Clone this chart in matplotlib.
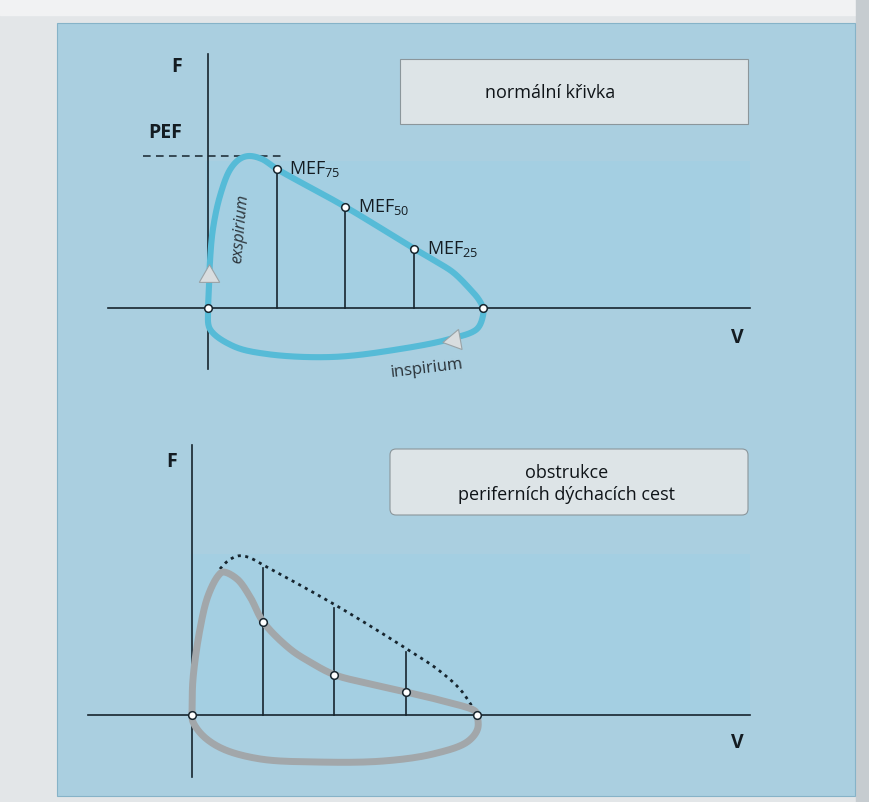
import numpy as np
import matplotlib
matplotlib.use("Agg")
import matplotlib.pyplot as plt
from matplotlib.patches import Rectangle, FancyBboxPatch
from matplotlib.markers import MarkerStyle

plt.rcParams['font.family'] = ['Open Sans', 'DejaVu Sans']
plt.rcParams['mathtext.default'] = 'regular'

# ---------------- data (V in % of vital capacity, F in relative flow units) -------------
# normal flow-volume loop
normal_exp_V = [0, 0.4, 0.7, 1.8, 4.4, 8.0, 11.5, 14.9, 19.6, 25, 50, 75, 83.0, 89.1, 95.0, 98.5, 100]
normal_exp_F = [0, 1.5, 3.0, 5.2, 7.4, 9.1, 9.8, 10.0, 9.8, 9.15, 6.65, 3.9, 3.05, 2.35, 1.3, 0.55, 0]
normal_insp_V = [100, 100, 97.8, 88, 69.8, 45.5, 21.5, 9.1, 0.7, 0]
normal_insp_F = [0, -0.5, -1.38, -2.04, -2.7, -3.22, -3.03, -2.5, -1.38, 0]
PEF = 10.0
MEF_V = [25, 50, 75]
MEF_normal = [9.15, 6.65, 3.9]
MEF_labels = ['MEF$_{75}$', 'MEF$_{50}$', 'MEF$_{25}$']

# peripheral airway obstruction
obstr_exp_V = [0, 0.35, 2.8, 5.6, 9.1, 10.9, 15.8, 20.4, 25, 34.4, 41.4, 50, 62.5, 75, 88.1, 99.3, 100]
obstr_exp_F = [0, 2.24, 5.34, 7.39, 8.63, 8.88, 8.45, 7.33, 5.78, 4.1, 3.29, 2.5, 1.93, 1.43, 0.87, 0.25, 0]
obstr_insp_V = [100, 100.2, 96.5, 84.6, 67, 43.9, 23.9, 10.9, 3.9, 0.35, 0]
obstr_insp_F = [0, -0.87, -1.68, -2.42, -2.86, -2.92, -2.73, -2.11, -1.30, -0.43, 0]
MEF_obstr = [5.78, 2.5, 1.43]
# normal expiratory limb shown dotted for reference
ref_V = [9.8, 12.6, 16.1, 19.6, 26.3, 50.9, 75.4, 86, 94, 98.2, 99.3]
ref_F = [9.07, 9.57, 9.88, 9.81, 9.19, 6.77, 4.1, 2.86, 1.61, 0.56, 0.25]

title_top = 'normální křivka'
title_bottom = 'obstrukce\nperiferních dýchacích cest'


def smooth(v, f, sv, sf, n=16):
    """centripetal Catmull-Rom through the read points (drawing only), in display-like units"""
    p = np.column_stack([np.asarray(v, float) * sv, np.asarray(f, float) * sf])
    p = np.vstack([2 * p[0] - p[1], p, 2 * p[-1] - p[-2]])
    out = []
    for i in range(1, len(p) - 2):
        p0, p1, p2, p3 = p[i - 1], p[i], p[i + 1], p[i + 2]
        t0 = 0.0
        t1 = t0 + max(np.linalg.norm(p1 - p0), 1e-6) ** 0.5
        t2 = t1 + max(np.linalg.norm(p2 - p1), 1e-6) ** 0.5
        t3 = t2 + max(np.linalg.norm(p3 - p2), 1e-6) ** 0.5
        t = np.linspace(t1, t2, n, endpoint=False)[:, None]
        a1 = (t1 - t) / (t1 - t0) * p0 + (t - t0) / (t1 - t0) * p1
        a2 = (t2 - t) / (t2 - t1) * p1 + (t - t1) / (t2 - t1) * p2
        a3 = (t3 - t) / (t3 - t2) * p2 + (t - t2) / (t3 - t2) * p3
        b1 = (t2 - t) / (t2 - t0) * a1 + (t - t0) / (t2 - t0) * a2
        b2 = (t3 - t) / (t3 - t1) * a2 + (t - t1) / (t3 - t1) * a3
        c = (t2 - t) / (t2 - t1) * b1 + (t - t1) / (t2 - t1) * b2
        out.append(c)
    out.append(p[-2][None, :])
    out = np.vstack(out)
    return out[:, 0] / sv, out[:, 1] / sf


W, H = 870, 803
fig = plt.figure(figsize=(W / 100, H / 100), dpi=100)
fig.patch.set_facecolor('#e3e6e8')

# background layer (pixel coordinates)
bg = fig.add_axes([0, 0, 1, 1])
bg.set_xlim(0, W)
bg.set_ylim(H, 0)
bg.axis('off')
bg.add_patch(Rectangle((0, 0), W, 16, color='#f1f2f3', zorder=0))
bg.add_patch(Rectangle((856, 0), 14, H, color='#c6ccd0', zorder=0))
bg.add_patch(Rectangle((57, 24), 798, 773, facecolor='#aacfe0', edgecolor='#86b3c8', lw=0.8, zorder=1))
bg.add_patch(Rectangle((205, 162), 545, 148, facecolor='#a4cfe2', edgecolor='none', zorder=2))
bg.add_patch(Rectangle((190, 555), 560, 161, facecolor='#a4cfe2', edgecolor='none', zorder=2))
bg.add_patch(Rectangle((400, 60), 348, 65, facecolor='#dde4e7', edgecolor='#8b969b', lw=0.8, zorder=3))
bg.add_patch(FancyBboxPatch((393, 453), 352, 60, boxstyle='round,pad=3,rounding_size=6',
                            facecolor='#dde4e7', edgecolor='#8b969b', lw=0.8, zorder=3))
bg.text(550, 93, title_top, ha='center', va='center', fontsize=13, fontweight='medium',
        color='#0f1418', zorder=4)
bg.text(567, 484, title_bottom, ha='center', va='center', fontsize=13, fontweight='medium',
        color='#0f1418', linespacing=1.25, zorder=4)


def panel(origin, px_v, px_f):
    ax = fig.add_axes([0, 0, 1, 1])
    ax.set_xlim(-origin[0] / px_v, (W - origin[0]) / px_v)
    ax.set_ylim((origin[1] - H) / px_f, origin[1] / px_f)
    ax.axis('off')
    ax.patch.set_alpha(0)
    return ax


axis_col = '#17252e'
bold = dict(fontweight='bold', fontsize=14, color='#141c22')

# ---------------- top panel: normal loop ----------------
SV1, SF1 = 2.75, 15.2
ax1 = panel((208, 309), SV1, SF1)
ax1.plot([0, 0], [-4.0, 16.7], color=axis_col, lw=1.2, zorder=2)
ax1.plot([-36.4, 197.1], [0, 0], color=axis_col, lw=1.2, zorder=2)
ax1.plot([-23.6, 26.9], [PEF, PEF], color=axis_col, lw=1.1, ls=(0, (5, 3.5)), zorder=2)
for v, f in zip(MEF_V, MEF_normal):
    ax1.plot([v, v], [0, f], color=axis_col, lw=1.2, zorder=2)
lv, lf = smooth(normal_exp_V + normal_insp_V[1:], normal_exp_F + normal_insp_F[1:], SV1, SF1)
ax1.plot(lv, lf, color='#56bbd7', lw=4.4, solid_capstyle='round', solid_joinstyle='round', zorder=3)
ax1.plot(MEF_V, MEF_normal, 'o', ms=5.5, mfc='white', mec=axis_col, mew=1.1, zorder=5)
ax1.plot([0, 100], [0, 0], 'o', ms=5.5, mfc='white', mec=axis_col, mew=1.1, zorder=5)
ax1.plot([0.4], [2.1], marker=MarkerStyle((3, 0, 0)), ms=17, mfc='#d9dddf', mec='#9aa3a7', mew=0.8, zorder=6)
ax1.plot([89.5], [-2.1], marker=MarkerStyle((3, 0, 100)), ms=17, mfc='#d9dddf', mec='#9aa3a7', mew=0.8, zorder=6)
for v, f, lab in zip(MEF_V, MEF_normal, MEF_labels):
    ax1.text(v + 4.5, f + 0.05, lab, ha='left', va='center', fontsize=13, color='#141c22', zorder=6)
ax1.text(-11.3, 15.9, 'F', ha='center', va='center', **bold)
ax1.text(-15.6, 11.6, 'PEF', ha='center', va='center', **bold)
ax1.text(192.4, -1.9, 'V', ha='center', va='center', **bold)
ax1.text(11.6, 5.3, 'exspirium', rotation=85, ha='center', va='center', fontsize=11.5,
         style='italic', color='#2a3238', zorder=6)
ax1.text(79.6, -3.95, 'inspirium', rotation=7, ha='center', va='center', fontsize=12,
         color='#2a3238', zorder=6)

# ---------------- bottom panel: peripheral obstruction ----------------
SV2, SF2 = 2.85, 16.1
ax2 = panel((192, 716), SV2, SF2)
ax2.plot([0, 0], [-3.85, 16.8], color=axis_col, lw=1.2, zorder=2)
ax2.plot([-36.5, 195.8], [0, 0], color=axis_col, lw=1.2, zorder=2)
for v, f in zip(MEF_V, MEF_normal):
    ax2.plot([v, v], [0, f], color=axis_col, lw=1.2, zorder=2)
rv, rf = smooth(ref_V, ref_F, SV2, SF2)
ax2.plot(rv, rf, color=axis_col, lw=2.0, ls=(0, (1.1, 1.6)), zorder=3)
ov, of = smooth(obstr_exp_V + obstr_insp_V[1:], obstr_exp_F + obstr_insp_F[1:], SV2, SF2)
ax2.plot(ov, of, color='#a2a7aa', lw=5.0, solid_capstyle='round', solid_joinstyle='round', zorder=3)
ax2.plot(MEF_V, MEF_obstr, 'o', ms=5.5, mfc='white', mec=axis_col, mew=1.1, zorder=5)
ax2.plot([0, 100], [0, 0], 'o', ms=5.5, mfc='white', mec=axis_col, mew=1.1, zorder=5)
ax2.text(-7.0, 15.8, 'F', ha='center', va='center', **bold)
ax2.text(191.2, -1.68, 'V', ha='center', va='center', **bold)

fig.savefig('out.png', dpi=100, facecolor=fig.get_facecolor())
